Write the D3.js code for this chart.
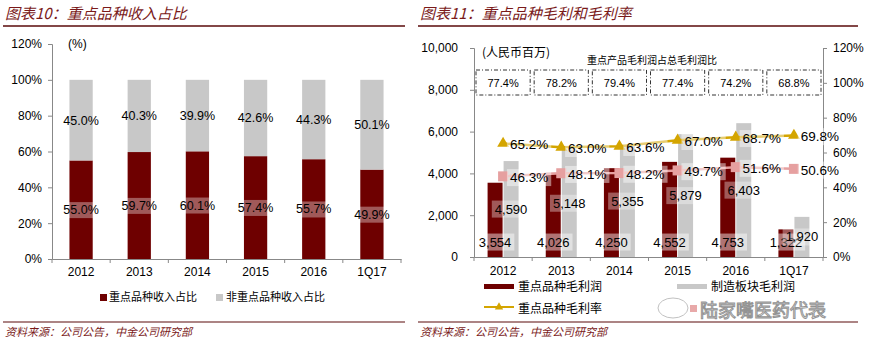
<!DOCTYPE html>
<html><head><meta charset="utf-8">
<script src="https://cdn.jsdelivr.net/npm/d3@7"></script>
<style>body{margin:0;background:#fff}svg{display:block}</style>
</head><body><svg id="c" width="872" height="345"></svg>
<script>
// ---- data ----
const categories = ["2012","2013","2014","2015","2016","1Q17"];
const keyShare = [0.550,0.597,0.601,0.574,0.557,0.499];
const nonKeyShare = [0.450,0.403,0.399,0.426,0.443,0.501];
const keyGross = [3554,4026,4250,4552,4753,1322];
const mfgGross = [4590,5148,5355,5879,6403,1920];
const keyMargin = [0.652,0.630,0.636,0.670,0.687,0.698];
const mfgMargin = [0.463,0.481,0.482,0.497,0.516,0.506];
const keyProfitRatio = ["77.4%","78.2%","79.4%","77.4%","74.2%","68.8%"];
const leftTicks = [0,0.2,0.4,0.6,0.8,1.0,1.2];
const rightLeftTicks = [0,2000,4000,6000,8000,10000];
const rightRightTicks = [0,0.2,0.4,0.6,0.8,1.0,1.2];

const RED="#6E0000", GREY="#C8C8C8", GOLD="#D4A500", PINK="#E6A0A0", TITLE="#7A1A1A";
const NUM="'Liberation Sans', Arial, sans-serif", CJK="'Noto Sans CJK SC', sans-serif";
const svg = d3.select("#c");
const pct = d3.format(".1%"), com = d3.format(",");

function header(x0,x1,title){
  svg.append("text").attr("x",x0+2).attr("y",19).attr("font-family",CJK).attr("font-size",15)
    .attr("font-style","italic").attr("fill",TITLE).text(title);
  svg.append("line").attr("x1",x0).attr("x2",x1).attr("y1",26).attr("y2",26).attr("stroke","#5A0A0A").attr("stroke-width",1.5);
  svg.append("line").attr("x1",x0).attr("x2",x1).attr("y1",322).attr("y2",322).attr("stroke","#5A0A0A").attr("stroke-width",1.2);
  svg.append("text").attr("x",x0+2).attr("y",336).attr("font-family",CJK).attr("font-size",11)
    .attr("font-style","italic").attr("fill",TITLE).text("资料来源：公司公告，中金公司研究部");
}
function labelBox(g,x,y,txt,size,op){
  const t = g.append("text").attr("x",x).attr("y",y).attr("dy","0.35em").attr("text-anchor","middle")
    .attr("font-family",NUM).attr("font-size",size).attr("fill","#000").text(txt);
  if(op>0){
    const bb = t.node().getBBox();
    g.insert("rect",()=>t.node()).attr("x",bb.x-3).attr("y",bb.y-1).attr("width",bb.width+6).attr("height",bb.height+2)
      .attr("fill","#fff").attr("opacity",op);
  }
}

// ---------------- Left chart ----------------
header(3,405,"图表10：重点品种收入占比");
const x1 = d3.scaleBand().domain(categories).range([52,401]);
const y1 = d3.scaleLinear().domain([0,1.2]).range([259,44]);
const bw1 = x1.bandwidth()*0.4;
const g1 = svg.append("g");
g1.append("g").attr("transform","translate(52,0)")
  .call(d3.axisLeft(y1).tickValues(leftTicks).tickFormat(d3.format(".0%")).tickSize(4).tickPadding(6))
  .call(a=>{a.select(".domain").attr("stroke","#888");a.selectAll(".tick line").attr("stroke","#888");
    a.selectAll("text").attr("font-family",NUM).attr("font-size",12).attr("fill","#000");});
g1.append("g").attr("transform","translate(0,259)")
  .call(d3.axisBottom(x1).tickSize(0).tickPadding(8))
  .call(a=>{a.select(".domain").attr("stroke","#888");a.selectAll("text").attr("font-family",NUM).attr("font-size",12).attr("fill","#000");});
g1.selectAll(".bt").data(d3.range(categories.length+1)).join("line")
  .attr("x1",i=>52+i*x1.step()).attr("x2",i=>52+i*x1.step()).attr("y1",259).attr("y2",263).attr("stroke","#888");
categories.forEach((c,i)=>{
  const cx = x1(c)+x1.bandwidth()/2;
  g1.append("rect").attr("x",cx-bw1/2).attr("width",bw1).attr("y",y1(keyShare[i])).attr("height",y1(0)-y1(keyShare[i])).attr("fill",RED);
  g1.append("rect").attr("x",cx-bw1/2).attr("width",bw1).attr("y",y1(keyShare[i]+nonKeyShare[i])).attr("height",y1(0)-y1(nonKeyShare[i])).attr("fill",GREY);
});
categories.forEach((c,i)=>{
  const cx = x1(c)+x1.bandwidth()/2;
  labelBox(g1,cx,(y1(0)+y1(keyShare[i]))/2,pct(keyShare[i]),12.5,0.35);
  labelBox(g1,cx,(y1(keyShare[i])+y1(1))/2,pct(nonKeyShare[i]),12.5,0);
});
svg.append("text").attr("x",68).attr("y",48).attr("font-family",NUM).attr("font-size",12).text("(%)");
svg.append("rect").attr("x",100).attr("y",294).attr("width",7).attr("height",7).attr("fill",RED);
svg.append("text").attr("x",109).attr("y",301).attr("font-family",CJK).attr("font-size",11).text("重点品种收入占比");
svg.append("rect").attr("x",216).attr("y",294).attr("width",7).attr("height",7).attr("fill",GREY);
svg.append("text").attr("x",226).attr("y",301).attr("font-family",CJK).attr("font-size",11).text("非重点品种收入占比");

// ---------------- Right chart ----------------
header(418,858,"图表11：重点品种毛利和毛利率");
const x2 = d3.scaleBand().domain(categories).range([474,823]);
const yL = d3.scaleLinear().domain([0,10000]).range([257,48]);
const yR = d3.scaleLinear().domain([0,1.2]).range([257,48]);
const g2 = svg.append("g");
g2.append("g").attr("transform","translate(474,0)")
  .call(d3.axisLeft(yL).tickValues(rightLeftTicks).tickFormat(com).tickSize(4).tickPadding(12))
  .call(a=>{a.select(".domain").attr("stroke","#888");a.selectAll(".tick line").attr("stroke","#888");
    a.selectAll("text").attr("font-family",NUM).attr("font-size",12).attr("fill","#000");});
g2.append("g").attr("transform","translate(823,0)")
  .call(d3.axisRight(yR).tickValues(rightRightTicks).tickFormat(d3.format(".0%")).tickSize(4).tickPadding(6))
  .call(a=>{a.select(".domain").attr("stroke","#888");a.selectAll(".tick line").attr("stroke","#888");
    a.selectAll("text").attr("font-family",NUM).attr("font-size",12).attr("fill","#000");});
g2.append("g").attr("transform","translate(0,257)")
  .call(d3.axisBottom(x2).tickSize(0).tickPadding(9))
  .call(a=>{a.select(".domain").attr("stroke","#888");a.selectAll("text").attr("font-family",NUM).attr("font-size",12).attr("fill","#000");});
g2.selectAll(".bt").data(d3.range(categories.length+1)).join("line")
  .attr("x1",i=>474+i*x2.step()).attr("x2",i=>474+i*x2.step()).attr("y1",257).attr("y2",261).attr("stroke","#888");
const bw2 = 15;
const cxs = categories.map(c=>x2(c)+x2.bandwidth()/2);
categories.forEach((c,i)=>{
  g2.append("rect").attr("x",cxs[i]-bw2-0.5).attr("width",bw2).attr("y",yL(keyGross[i])).attr("height",yL(0)-yL(keyGross[i])).attr("fill",RED);
  g2.append("rect").attr("x",cxs[i]+0.5).attr("width",bw2).attr("y",yL(mfgGross[i])).attr("height",yL(0)-yL(mfgGross[i])).attr("fill",GREY);
});
const lineGen = d3.line().x((d,i)=>cxs[i]).y(d=>yR(d));
g2.append("path").datum(mfgMargin).attr("d",lineGen).attr("fill","none").attr("stroke",PINK).attr("stroke-width",2.5);
g2.selectAll(".sq").data(mfgMargin).join("rect").attr("x",(d,i)=>cxs[i]-5).attr("y",d=>yR(d)-5).attr("width",10).attr("height",10).attr("fill",PINK);
g2.append("path").datum(keyMargin).attr("d",lineGen).attr("fill","none").attr("stroke",GOLD).attr("stroke-width",2.5);
g2.selectAll(".tri").data(keyMargin).join("path").attr("d",d3.symbol(d3.symbolTriangle,60))
  .attr("transform",(d,i)=>`translate(${cxs[i]},${yR(d)})`).attr("fill",GOLD);
categories.forEach((c,i)=>{
  labelBox(g2,cxs[i]-bw2/2-0.5,242,com(keyGross[i]),13,0.45);
  labelBox(g2,cxs[i]+bw2/2+0.5,(yL(0)+yL(mfgGross[i]))/2,com(mfgGross[i]),13,0.35);
});
categories.forEach((c,i)=>{
  labelBox(g2,cxs[i]+26,yR(keyMargin[i])+1,pct(keyMargin[i]),13.5,0.45);
  labelBox(g2,cxs[i]+26,yR(mfgMargin[i])+1,pct(mfgMargin[i]),13.5,0.45);
});
categories.forEach((c,i)=>{
  const x0 = x2(c)+2, w = x2.step()-4;
  g2.append("rect").attr("x",x0).attr("y",70).attr("width",w).attr("height",25).attr("fill","none")
    .attr("stroke","#333").attr("stroke-width",1).attr("stroke-dasharray","4,2,1,2");
  g2.append("text").attr("x",x0+w/2).attr("y",83).attr("dy","0.35em").attr("text-anchor","middle")
    .attr("font-family",NUM).attr("font-size",11).text(keyProfitRatio[i]);
});
svg.append("text").attr("x",652).attr("y",64).attr("text-anchor","middle").attr("font-family",CJK).attr("font-size",10).text("重点产品毛利润占总毛利润比");
svg.append("text").attr("x",482).attr("y",57).attr("font-family",CJK).attr("font-size",12).text("(人民币百万)");
svg.append("rect").attr("x",484).attr("y",284).attr("width",30).attr("height",5).attr("fill",RED);
svg.append("text").attr("x",518).attr("y",291).attr("font-family",CJK).attr("font-size",12).text("重点品种毛利润");
svg.append("rect").attr("x",677).attr("y",284).attr("width",30).attr("height",5).attr("fill",GREY);
svg.append("text").attr("x",711).attr("y",291).attr("font-family",CJK).attr("font-size",12).text("制造板块毛利润");
svg.append("line").attr("x1",484).attr("x2",514).attr("y1",307).attr("y2",307).attr("stroke",GOLD).attr("stroke-width",2);
svg.append("path").attr("d",d3.symbol(d3.symbolTriangle,30)).attr("transform","translate(499,307)").attr("fill",GOLD);
svg.append("text").attr("x",518).attr("y",313).attr("font-family",CJK).attr("font-size",12).text("重点品种毛利率");
const wm = svg.append("g").attr("opacity",0.9);
wm.append("ellipse").attr("cx",673).attr("cy",308).attr("rx",15).attr("ry",10).attr("fill","none").attr("stroke","#bbb").attr("stroke-width",1);
wm.append("rect").attr("x",690).attr("y",305).attr("width",7).attr("height",7).attr("fill",PINK);
wm.append("text").attr("x",700).attr("y",317).attr("font-family",CJK).attr("font-size",18).attr("fill","#fff")
  .attr("stroke","#888").attr("stroke-width",1).text("陆家嘴医药代表");
</script></body></html>
